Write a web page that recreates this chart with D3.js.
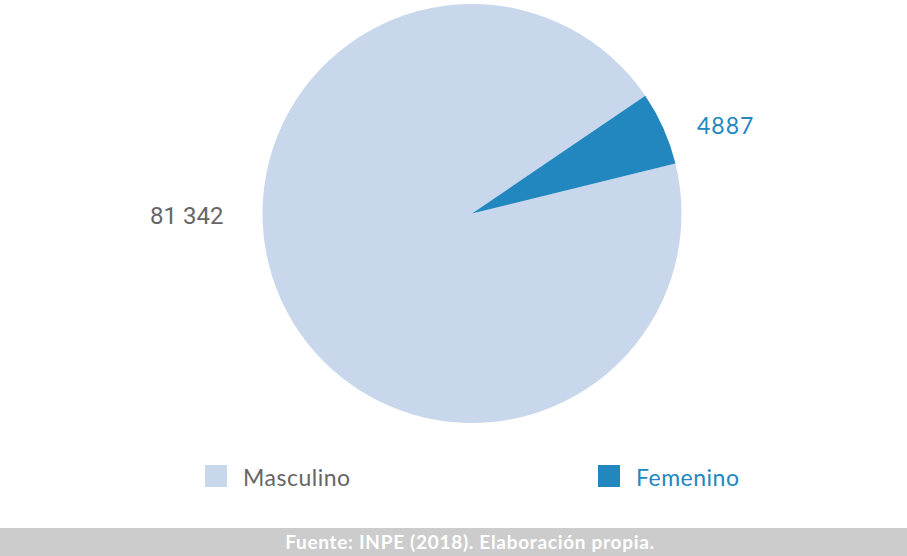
<!DOCTYPE html>
<html>
<head>
<meta charset="utf-8">
<script src="https://cdn.jsdelivr.net/npm/d3@7"></script>
<style>
  html, body { margin: 0; padding: 0; background: #ffffff; }
  svg { display: block; }
</style>
</head>
<body>
<svg id="chart" width="907" height="556"></svg>
<script>
// Población penitenciaria por sexo
const categories = ["Masculino", "Femenino"];
const values = [81342, 4887];
const valueLabels = ["81 342", "4887"];
const colors = ["#c9d7ec", "#2387bf"];
const labelColors = ["#666666", "#2387bf"];
const sourceText = "Fuente: INPE (2018). Elaboración propia.";

const W = 907, H = 556;
const cx = 472, cy = 213.5, radius = 209.5;
const deg = Math.PI / 180;
const start = 76.2 * deg;

const svg = d3.select("#chart");
const data = categories.map((c, i) => ({ name: c, value: values[i], label: valueLabels[i], color: colors[i], labelColor: labelColors[i] }));

const pie = d3.pie().value(d => d.value).sort(null)
  .startAngle(start).endAngle(start + 2 * Math.PI);
const arcs = pie(data);
const arc = d3.arc().innerRadius(0).outerRadius(radius);

const g = svg.append("g").attr("transform", `translate(${cx},${cy})`);
g.selectAll("path").data(arcs).join("path")
  .attr("d", arc)
  .attr("fill", d => d.data.color);

// Value labels placed outside the slices
const labelPos = [
  { x: 150 - cx, y: 224 - cy, font: "Roboto, 'Noto Sans', sans-serif", weight: 400, size: 24, spacing: 0 },
  { x: 697 - cx, y: 134 - cy, font: "Lato, 'Noto Sans', sans-serif", weight: 400, size: 23, spacing: 1 }
];
g.selectAll("text.val").data(arcs).join("text")
  .attr("class", "val")
  .attr("x", (d, i) => labelPos[i].x)
  .attr("y", (d, i) => labelPos[i].y)
  .attr("font-family", (d, i) => labelPos[i].font)
  .attr("font-weight", (d, i) => labelPos[i].weight)
  .attr("font-size", (d, i) => labelPos[i].size)
  .attr("letter-spacing", (d, i) => labelPos[i].spacing)
  .attr("fill", d => d.data.labelColor)
  .text(d => d.data.label);

// Legend
const legendX = [205, 598];
const legend = svg.append("g");
const items = legend.selectAll("g").data(data).join("g")
  .attr("transform", (d, i) => `translate(${legendX[i]},465)`);
items.append("rect")
  .attr("width", 22).attr("height", 22)
  .attr("fill", d => d.color);
items.append("text")
  .attr("x", 38).attr("y", 21)
  .attr("font-family", "Lato, 'Noto Sans', sans-serif")
  .attr("font-size", 23)
  .attr("letter-spacing", 0.5)
  .attr("fill", d => d.labelColor)
  .text(d => d.name);

// Source band
svg.append("rect")
  .attr("x", 0).attr("y", 528).attr("width", W).attr("height", H - 528)
  .attr("fill", "#cccccc");
svg.append("text")
  .attr("x", 470).attr("y", 549)
  .attr("text-anchor", "middle")
  .attr("font-family", "Lato, 'Noto Sans', sans-serif")
  .attr("font-weight", 700)
  .attr("font-size", 19)
  .attr("letter-spacing", 0.7)
  .attr("fill", "#ffffff")
  .text(sourceText);
</script>
</body>
</html>
